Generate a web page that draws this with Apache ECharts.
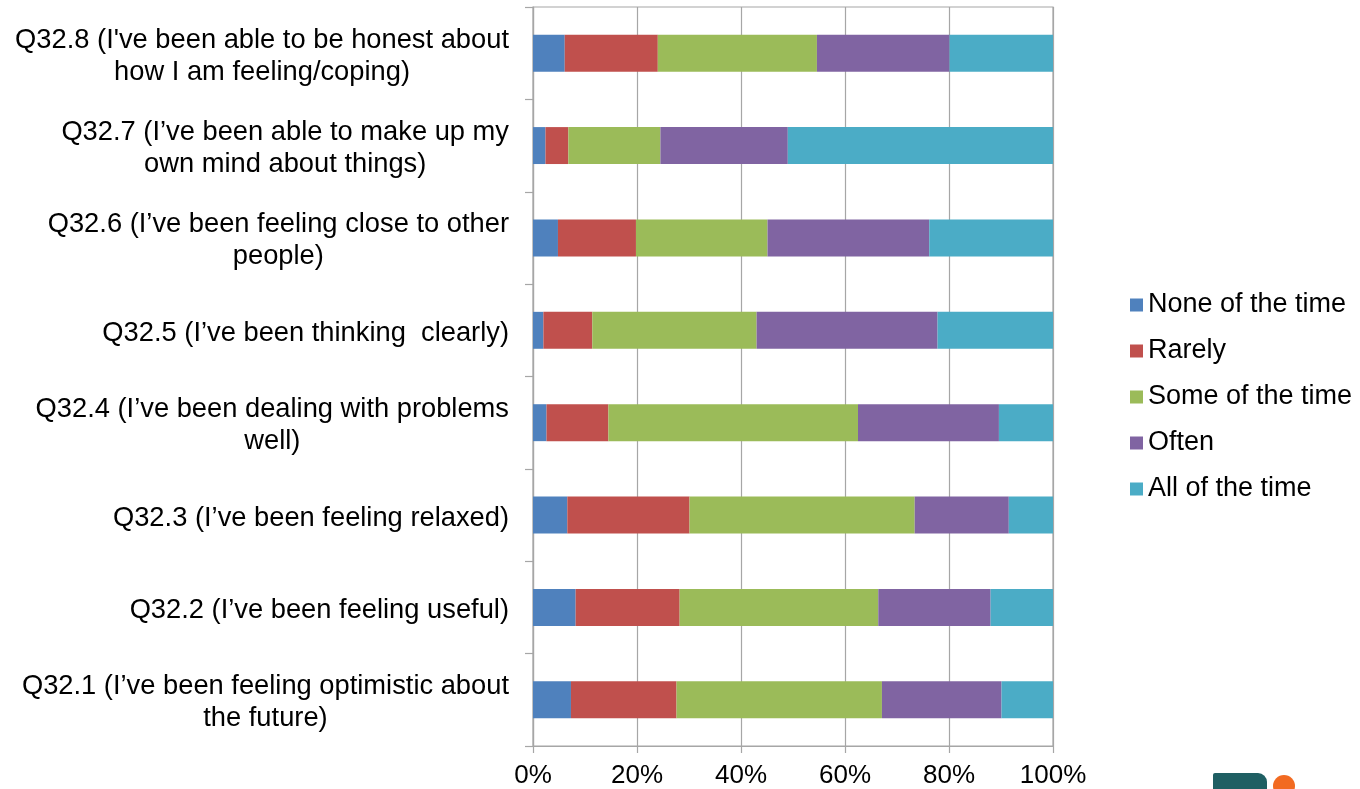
<!DOCTYPE html>
<html>
<head>
<meta charset="utf-8">
<script src="https://cdn.jsdelivr.net/npm/echarts@6/dist/echarts.min.js"></script>
<style>
  html, body { margin: 0; padding: 0; background: #ffffff; }
  #chart { width: 1360px; height: 789px; }
</style>
</head>
<body>
<div id="chart"></div>
<script>
// Categories listed bottom to top (category axis grows upward)
const categories = [
  "Q32.1 (I’ve been feeling optimistic about\nthe future)",
  "Q32.2 (I’ve been feeling useful)",
  "Q32.3 (I’ve been feeling relaxed)",
  "Q32.4 (I’ve been dealing with problems\nwell)",
  "Q32.5 (I’ve been thinking  clearly)",
  "Q32.6 (I’ve been feeling close to other\npeople)",
  "Q32.7 (I’ve been able to make up my\nown mind about things)",
  "Q32.8 (I've been able to be honest about\nhow I am feeling/coping)"
];

const seriesNames = ["None of the time", "Rarely", "Some of the time", "Often", "All of the time"];

// Percent of responses per category (same order as categories)
const noneOfTheTime = [7.3, 8.2, 6.6, 2.6, 2.0, 4.8, 2.4, 6.1];
const rarely        = [20.3, 20.0, 23.5, 11.9, 9.4, 15.0, 4.4, 17.9];
const someOfTheTime = [39.5, 38.2, 43.3, 48.0, 31.6, 25.3, 17.7, 30.6];
const often         = [23.0, 21.6, 18.1, 27.1, 34.8, 31.1, 24.5, 25.5];
const allOfTheTime  = [9.9, 12.0, 8.5, 10.4, 22.2, 23.8, 51.0, 19.9];

const xTicks = [0, 20, 40, 60, 80, 100];

const palette = ["#4F81BD", "#C0504D", "#9BBB59", "#8064A2", "#4BACC6"];
const values = [noneOfTheTime, rarely, someOfTheTime, often, allOfTheTime];

const FONT = "'Liberation Sans', Arial, sans-serif";
const GRID_COLOR = "#a6a6a6";

const chart = echarts.init(document.getElementById("chart"), null, { renderer: "canvas" });

chart.setOption({
  backgroundColor: "#ffffff",
  animation: false,
  color: palette,
  textStyle: { fontFamily: FONT, color: "#000000" },
  grid: {
    left: 533, right: 307, top: 7, bottom: 43,
    show: true, borderColor: GRID_COLOR, borderWidth: 1.2,
    containLabel: false
  },
  legend: {
    orient: "vertical",
    left: 1130,
    top: 291,
    padding: 0,
    itemWidth: 13,
    itemHeight: 13,
    itemGap: 18,
    icon: "rect",
    data: seriesNames,
    textStyle: { fontFamily: FONT, fontSize: 27, color: "#000000", lineHeight: 28 }
  },
  xAxis: {
    type: "value",
    min: xTicks[0],
    max: xTicks[xTicks.length - 1],
    interval: xTicks[1] - xTicks[0],
    axisLine: { show: true, lineStyle: { color: GRID_COLOR, width: 1.2 } },
    axisTick: { show: true, length: 7, lineStyle: { color: GRID_COLOR, width: 1.2 } },
    splitLine: { show: true, lineStyle: { color: GRID_COLOR, width: 1.2 } },
    axisLabel: {
      formatter: "{value}%",
      fontFamily: FONT, fontSize: 26, color: "#000000", margin: 17
    }
  },
  yAxis: {
    type: "category",
    data: categories,
    boundaryGap: true,
    axisLine: { show: true, lineStyle: { color: GRID_COLOR, width: 1.2 } },
    axisTick: { show: true, length: 8, alignWithLabel: false, lineStyle: { color: GRID_COLOR, width: 1.2 } },
    splitLine: { show: false },
    axisLabel: {
      margin: 24,
      align: "right",
      padding: [6, 0, 0, 0],
      fontFamily: FONT, fontSize: 27.3, color: "#000000", lineHeight: 32,
      formatter: function (v) {
        return v.split("\n").map(function (line) { return "{c|" + line + "}"; }).join("\n");
      },
      rich: {
        c: { align: "center", fontFamily: FONT, fontSize: 27.3, color: "#000000", lineHeight: 32 }
      }
    }
  },
  series: seriesNames.map(function (name, i) {
    return {
      name: name,
      type: "bar",
      stack: "total",
      barWidth: "40%",
      data: values[i],
      itemStyle: { color: palette[i] }
    };
  }),
  graphic: [
    {
      type: "rect",
      shape: { x: 1213, y: 773, width: 54, height: 24, r: [2, 9, 0, 0] },
      style: { fill: "#1f5f63" },
      silent: true
    },
    {
      type: "circle",
      shape: { cx: 1284, cy: 786, r: 11 },
      style: { fill: "#f26a21" },
      silent: true
    }
  ]
});
</script>
</body>
</html>
